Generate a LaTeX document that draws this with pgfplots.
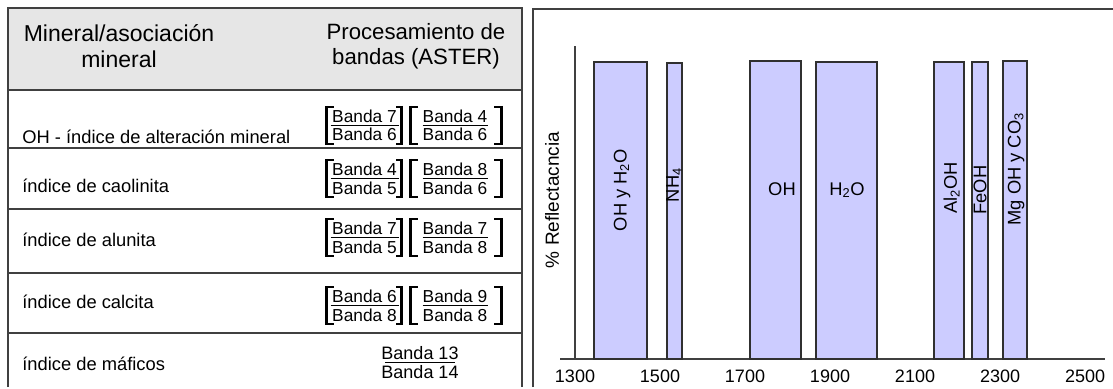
\documentclass[border=0pt]{standalone}
\usepackage{fontspec}
\setmainfont{Liberation Sans}
\usepackage{pgfplots}
\pgfplotsset{compat=1.18}
\definecolor{barfill}{HTML}{CCCCFF}
\definecolor{bardraw}{HTML}{303030}
\definecolor{hdr}{HTML}{E6E6E6}
\definecolor{rulec}{HTML}{404040}
% bracket: #1 x of vertical stroke, #2 arm length (signed), #3 y of fraction bar
\newcommand{\brk}[3]{%
  \draw[line width=2.2pt, line cap=butt] (#1,{#3-19}) -- (#1,{#3+20});
  \draw[line width=1.3pt, line cap=butt] ({#1-0.9*sign(#2)},{#3-18.4}) -- ({#1+#2},{#3-18.4});
  \draw[line width=1.3pt, line cap=butt] ({#1-0.9*sign(#2)},{#3+19.4}) -- ({#1+#2},{#3+19.4});
}
% fraction: #1 x center, #2 y of bar, #3 half bar length, #4 num, #5 den
\newcommand{\frc}[5]{%
  \node[anchor=base] at (#1,{#2-2.5}) {#4};
  \draw[line width=0.55pt] ({#1-#3},#2) -- ({#1+#3},#2);
  \node[anchor=base] at (#1,{#2+16}) {#5};
}
% whole row: #1 y of bar, #2..#5 texts
\newcommand{\grp}[5]{%
  \frc{364.5}{#1}{34}{#2}{#3}
  \frc{455}{#1}{32.5}{#4}{#5}
  \brk{326.5}{7}{#1}
  \brk{401.5}{-6}{#1}
  \brk{410.5}{7.5}{#1}
  \brk{501.5}{-7.5}{#1}
}
\begin{document}
\begin{tikzpicture}
\begin{scope}[x=0.6pt,y=-0.6pt]
\path[use as bounding box] (0,0) rectangle (1113,387);
% left table
\fill[hdr] (8,8) rectangle (522,90);
\draw[rulec, line width=0.9pt] (8,387) -- (8,8) -- (522,8) -- (522,387);
\foreach \yy in {90,148,209,273,333} \draw[rulec, line width=0.9pt] (8,\yy) -- (522,\yy);
\begin{scope}[every node/.style={inner sep=0pt}]
\node[anchor=base, font=\fontsize{13.8}{16}\selectfont] at (119,41.5) {Mineral/asociación};
\node[anchor=base, font=\fontsize{13.8}{16}\selectfont] at (119,68) {mineral};
\node[anchor=base, font=\fontsize{13.3}{16}\selectfont] at (416,40) {Procesamiento de};
\node[anchor=base, font=\fontsize{13.3}{16}\selectfont] at (416,65) {bandas (ASTER)};
\node[anchor=base west, font=\fontsize{11}{13}\selectfont] at (22,144) {OH - índice de alteración mineral};
\node[anchor=base west, font=\fontsize{11}{13}\selectfont] at (22,193) {índice de caolinita};
\node[anchor=base west, font=\fontsize{11}{13}\selectfont] at (22,246) {índice de alunita};
\node[anchor=base west, font=\fontsize{11}{13}\selectfont] at (22,308) {índice de calcita};
\node[anchor=base west, font=\fontsize{11}{13}\selectfont] at (22,370) {índice de máficos};
\begin{scope}[every node/.append style={font=\fontsize{10.4}{12}\selectfont}]
\grp{125}{Banda 7}{Banda 6}{Banda 4}{Banda 6}
\grp{178}{Banda 4}{Banda 5}{Banda 8}{Banda 6}
\grp{237}{Banda 7}{Banda 5}{Banda 7}{Banda 8}
\grp{305}{Banda 6}{Banda 8}{Banda 9}{Banda 8}
\end{scope}
\begin{scope}[every node/.append style={font=\fontsize{10.8}{12}\selectfont}]
\frc{420}{362}{35}{Banda 13}{Banda 14}
\end{scope}
\end{scope}
% right panel frame
\draw[rulec, line width=0.9pt] (533,387) -- (533,9) -- (1113,9);
\node[rotate=90, inner sep=0pt, font=\fontsize{11.4}{13}\selectfont] at (552,200) {\% Reflectacncia};
\end{scope}
\begin{axis}[
  at={(336pt,-215.4pt)}, anchor=south west,
  scale only axis, width=327pt, height=187.8pt,
  xmin=1264.7, xmax=2547, ymin=0, ymax=100,
  axis x line=bottom, axis y line=none,
  axis line style={-, draw=rulec, line width=0.9pt},
  xtick={1300,1500,1700,1900,2100,2300,2500},
  ytick=\empty,
  major tick length=0pt,
  xticklabel style={font=\fontsize{10.8}{13}\selectfont, yshift=-3pt},
  /pgf/number format/assume math mode=true,
  /pgf/number format/1000 sep={},
  clip=false,
]
\draw[rulec, line width=0.9pt] (axis cs:1300,0) -- (axis cs:1300,100);
\addplot[fill=barfill, draw=bardraw, line width=0.9pt, mark=none] coordinates {(1344.7,0) (1344.7,94.9) (1469.4,94.9) (1469.4,0)} -- cycle;
\addplot[fill=barfill, draw=bardraw, line width=0.9pt, mark=none] coordinates {(1516.5,0) (1516.5,94.6) (1551.8,94.6) (1551.8,0)} -- cycle;
\addplot[fill=barfill, draw=bardraw, line width=0.9pt, mark=none] coordinates {(1711.8,0) (1711.8,95.2) (1831.8,95.2) (1831.8,0)} -- cycle;
\addplot[fill=barfill, draw=bardraw, line width=0.9pt, mark=none] coordinates {(1867,0) (1867,94.9) (2010.6,94.9) (2010.6,0)} -- cycle;
\addplot[fill=barfill, draw=bardraw, line width=0.9pt, mark=none] coordinates {(2144.7,0) (2144.7,94.9) (2215.3,94.9) (2215.3,0)} -- cycle;
\addplot[fill=barfill, draw=bardraw, line width=0.9pt, mark=none] coordinates {(2234,0) (2234,94.9) (2271.8,94.9) (2271.8,0)} -- cycle;
\addplot[fill=barfill, draw=bardraw, line width=0.9pt, mark=none] coordinates {(2307,0) (2307,95.2) (2363.5,95.2) (2363.5,0)} -- cycle;
\begin{scope}[every node/.style={inner sep=0pt, font=\fontsize{11}{13}\selectfont}]
\node[rotate=90] at (axis cs:1410.6,54) {OH y H\textsubscript{2}O};
\node[rotate=90] at (axis cs:1533,55.6) {NH\textsubscript{4}};
\node at (axis cs:1787,54.3) {OH};
\node at (axis cs:1940,54) {H\textsubscript{2}O};
\node[rotate=90] at (axis cs:2186,54.6) {Al\textsubscript{2}OH};
\node[rotate=90] at (axis cs:2253,54) {FeOH};
\node[rotate=90] at (axis cs:2338,60.7) {Mg OH y CO\textsubscript{3}};
\end{scope}
\end{axis}
\end{tikzpicture}
\end{document}
